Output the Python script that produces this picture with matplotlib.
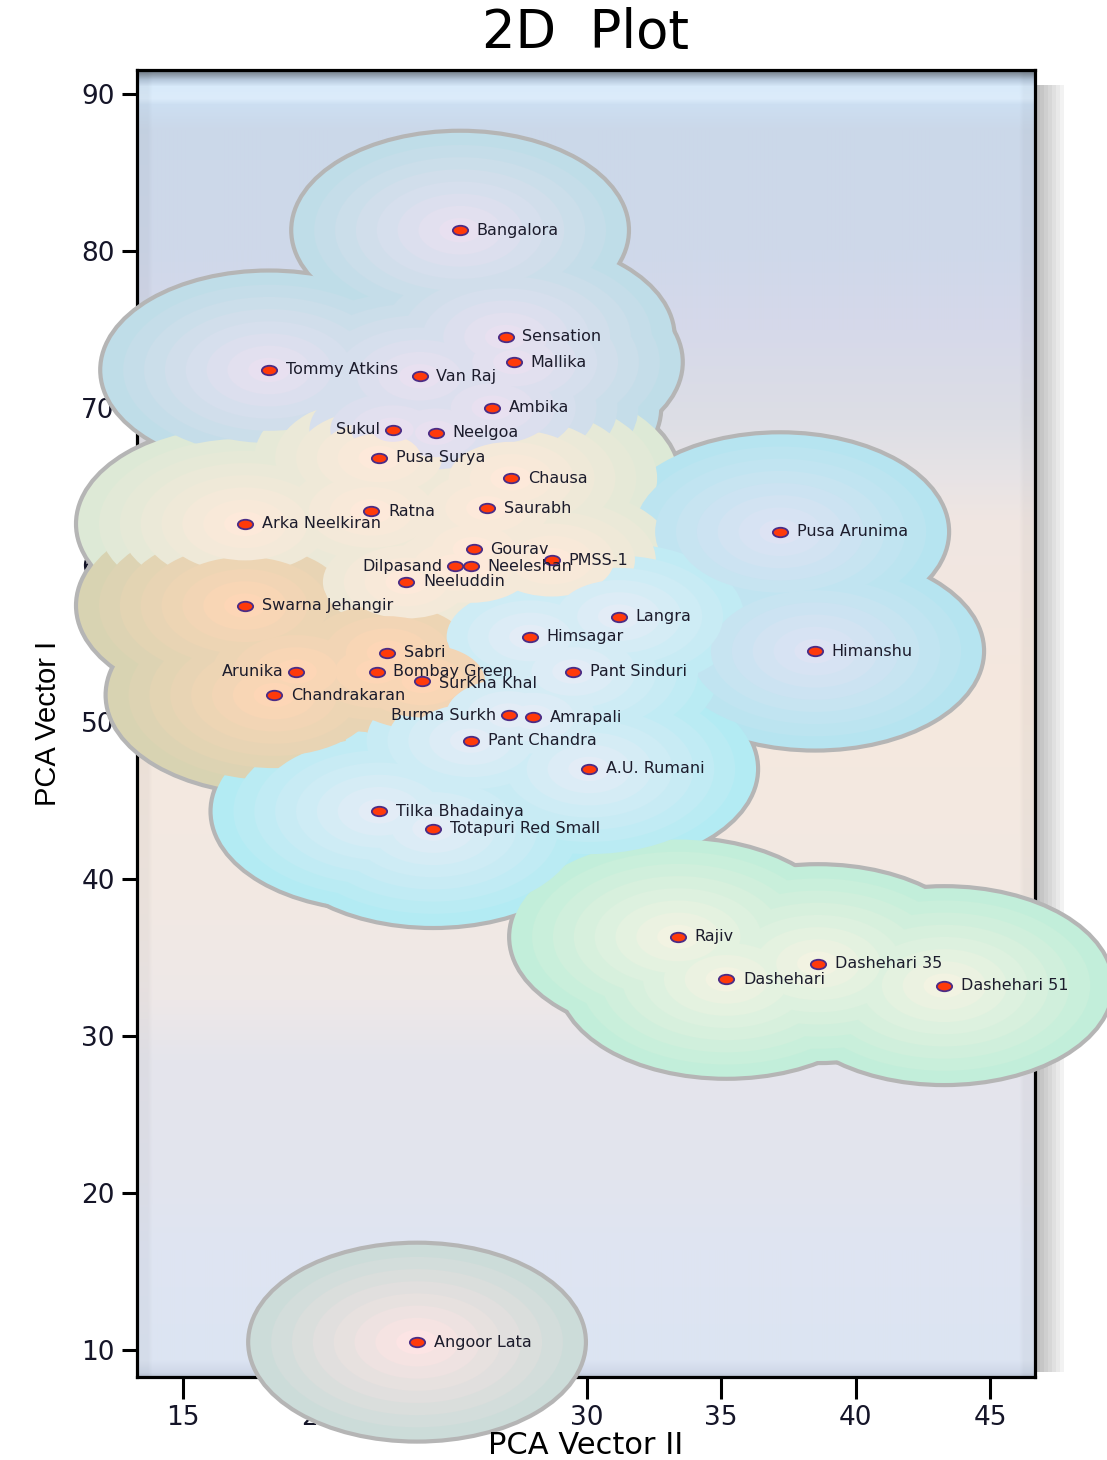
import numpy as np
import matplotlib
matplotlib.use('Agg')
import matplotlib.pyplot as plt
from matplotlib.patches import Circle, Rectangle
from matplotlib.collections import PatchCollection
from matplotlib.path import Path
from matplotlib.transforms import Affine2D
from matplotlib.colors import to_rgb

# varieties, PCA Vector II (x), PCA Vector I (y), cluster
names = ['Bangalora', 'Sensation', 'Mallika', 'Tommy Atkins', 'Van Raj', 'Ambika',
         'Sukul', 'Neelgoa',
         'Pusa Surya', 'Chausa', 'Saurabh', 'Ratna', 'Arka Neelkiran', 'Gourav',
         'PMSS-1', 'Dilpasand', 'Neeleshan', 'Neeluddin',
         'Swarna Jehangir', 'Sabri', 'Arunika', 'Bombay Green', 'SurKha Khal', 'Chandrakaran',
         'Pusa Arunima', 'Himanshu',
         'Langra', 'Himsagar', 'Pant Sinduri', 'Burma Surkh', 'Amrapali', 'Pant Chandra',
         'A.U. Rumani', 'Tilka Bhadainya', 'Totapuri Red Small',
         'Rajiv', 'Dashehari 35', 'Dashehari', 'Dashehari 51',
         'Angoor Lata']
pca2 = [25.3, 27.0, 27.3, 18.2, 23.8, 26.5, 22.8, 24.4,
        22.3, 27.2, 26.3, 22.0, 17.3, 25.8, 28.7, 25.1, 25.7, 23.3,
        17.3, 22.6, 19.2, 22.2, 23.9, 18.4,
        37.2, 38.5,
        31.2, 27.9, 29.5, 27.1, 28.0, 25.7, 30.1, 22.3, 24.3,
        33.4, 38.6, 35.2, 43.3,
        23.7]
pca1 = [81.3, 74.5, 72.9, 72.4, 72.0, 70.0, 68.6, 68.4,
        66.8, 65.5, 63.6, 63.4, 62.6, 61.0, 60.3, 59.9, 59.9, 58.9,
        57.4, 54.4, 53.2, 53.2, 52.6, 51.7,
        62.1, 54.5,
        56.7, 55.4, 53.2, 50.4, 50.3, 48.8, 47.0, 44.3, 43.2,
        36.3, 34.6, 33.6, 33.2,
        10.5]
cluster = [0] * 8 + [1] * 10 + [2] * 6 + [3] * 2 + [4] * 9 + [5] * 4 + [6]

xticks = [15, 20, 25, 30, 35, 40, 45]
yticks = [10, 20, 30, 40, 50, 60, 70, 80, 90]

# cluster colours: outer edge -> centre
edge_cols = ['#BFDDE8', '#DDE9D6', '#D8D3B2', '#B6E4F0', '#B3EBF3', '#C2EEDA', '#CCDCD9']
centre_cols = ['#E8E0F0', '#FDE9DA', '#FDD6B6', '#DDE3F3', '#E3ECF6', '#F2F3E2', '#FCE4E4']
left_labels = ['Sukul', 'Dilpasand', 'Arunika', 'Burma Surkh']

R = 6.2
levels = 8

fig = plt.figure(figsize=(11.07, 14.6), dpi=100)
ax = fig.add_axes([137 / 1107, 1 - 1377 / 1460, 898 / 1107, 1307 / 1460])
xmin, xmax, ymin, ymax = 13.29, 46.67, 8.28, 91.5

# background of the plot area (vertical gradient)
stops_px = [70, 74, 79, 86, 98, 104, 130, 250, 330, 420, 470, 520, 700, 900, 1000, 1060,
            1180, 1250, 1360, 1372, 1377]
stops_col = ['#6f7a86', '#8d9aa8', '#b4c6da', '#d8eafa', '#dcecfb', '#cddff2', '#cbd8e9',
             '#cfd8ea', '#d6d9ea', '#dddee5', '#e6e3e6', '#f0e6e2', '#f5e8de', '#f2e9e3',
             '#eee8e8', '#e5e5ec', '#e2e4ee', '#dfe5f2', '#dce4f2', '#cfd8e8', '#b8c2d2']
H, W = 1307, 200
yy = np.arange(H) + 70
rgb = np.array([to_rgb(c) for c in stops_col])
bg = np.zeros((H, W, 3))
for ch in range(3):
    bg[:, :, ch] = np.interp(yy, stops_px, rgb[:, ch])[:, None]
edge = np.ones(W)
edge[:3] = 0.965
edge[-3:] = 0.965
bg = bg * edge[None, :, None]
ax.imshow(bg, extent=[xmin, xmax, ymin, ymax], aspect='auto', zorder=0, interpolation='bilinear')

# shadow to the right of the frame
for i in range(7):
    g = 0.74 + i * 0.035
    fig.add_artist(Rectangle(((1036 + i * 4) / 1107, 1 - 1372 / 1460), 4 / 1107, 1287 / 1460,
                             transform=fig.transFigure, color=(g, g, g), zorder=-1, lw=0))

# blobs: grey outline, then gradient rings interleaved by level
outline = PatchCollection([Circle((x, y), R) for x, y in zip(pca2, pca1)],
                          facecolor='#B5B5B5', edgecolor='#B5B5B5', linewidth=6, zorder=3)
outline.set_clip_on(False)
ax.add_collection(outline)
for k in range(levels):
    t = k / (levels - 1)
    r = R * (1 - k / levels)
    cols = []
    for c in cluster:
        e = np.array(to_rgb(edge_cols[c]))
        m = np.array(to_rgb(centre_cols[c]))
        cols.append(e + (m - e) * t)
    pc = PatchCollection([Circle((x, y), r) for x, y in zip(pca2, pca1)],
                         facecolor=cols, edgecolor='none', linewidth=0, zorder=4 + k * 0.1)
    pc.set_clip_on(False)
    ax.add_collection(pc)

# points
dot = Path.unit_circle().transformed(Affine2D().scale(1, 0.62))
ax.scatter(pca2, pca1, marker=dot, s=11 ** 2, facecolor='#FF3A0A', edgecolor='#4B2C86',
           linewidths=1.3, zorder=20, clip_on=False)
for n, x, y in zip(names, pca2, pca1):
    if n in left_labels:
        ax.annotate(n, (x, y), xytext=(-9, 0), textcoords='offset points', ha='right',
                    va='center', fontsize=11.5, color='#1c1c2c', zorder=21)
    elif n == 'SurKha Khal':
        ax.annotate(n, (x, y), xytext=(12, -2), textcoords='offset points', ha='left',
                    va='center', fontsize=11.5, color='#1c1c2c', zorder=21)
    else:
        ax.annotate(n, (x, y), xytext=(12, 0), textcoords='offset points', ha='left',
                    va='center', fontsize=11.5, color='#1c1c2c', zorder=21)

ax.set_xlim(xmin, xmax)
ax.set_ylim(ymin, ymax)
ax.set_xticks(xticks)
ax.set_yticks(yticks)
ax.tick_params(axis='x', length=16, width=2.2, pad=4, labelsize=19, labelcolor='#151528')
ax.tick_params(axis='y', length=11, width=2.2, pad=5, labelsize=19, labelcolor='#151528')
for s in ax.spines.values():
    s.set_linewidth(2.3)
    s.set_color('black')

ax.set_title('2D  Plot', fontsize=38, pad=16)
ax.set_ylabel('PCA Vector I', fontsize=21, labelpad=14, family='Liberation Sans')
fig.text(586 / 1107, 1 - 1445 / 1460, 'PCA Vector II', ha='center', va='center',
         fontsize=22, zorder=10)

fig.savefig('out.png', dpi=100)
